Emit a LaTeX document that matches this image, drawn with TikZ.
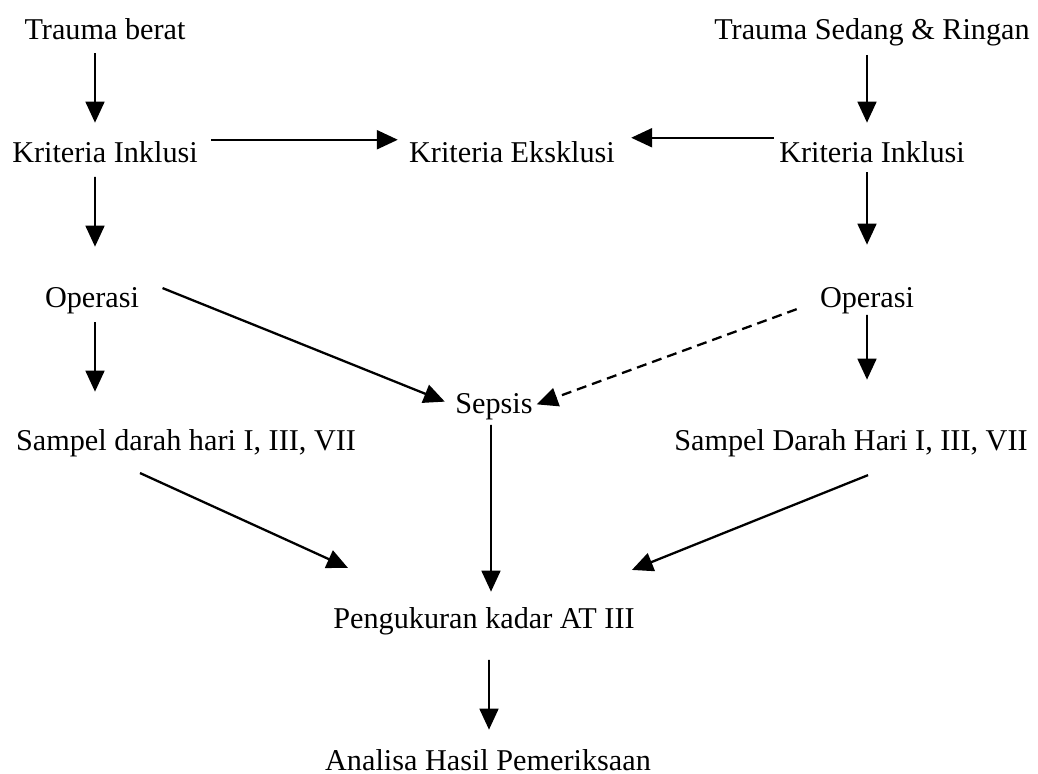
\documentclass[tikz,border=0pt]{standalone}
\usepackage{fontspec}
\setmainfont{Liberation Serif}
\usepackage{tikz}
\usetikzlibrary{arrows.meta}

\begin{document}
\begin{tikzpicture}[
txt/.style={anchor=base, inner sep=0pt, text height=0.42cm, text depth=0.13cm, font=\fontsize{17.2}{20}\selectfont},
arrow/.style={-{Triangle[length=0.42cm, width=0.38cm]}, line width=1pt},
slant/.style={arrow, line width=1.3pt},
dasharrow/.style={slant, dash pattern=on 0.2cm off 0.12cm}
]
\useasboundingbox (0,0) rectangle (20.76,-15.48);

% Top row
\node[txt] (tb) at (2.10,-0.80) {Trauma berat};
\node[txt] (ts) at (17.44,-0.80) {Trauma Sedang \& Ringan};

% Criteria
\node[txt] (kiL) at (2.10,-3.26) {Kriteria Inklusi};
\node[txt] (ke) at (10.24,-3.26) {Kriteria Eksklusi};
\node[txt] (kiR) at (17.44,-3.26) {Kriteria Inklusi};

% Operation and samples
\node[txt] (opL) at (1.84,-6.16) {Operasi};
\node[txt] (opR) at (17.34,-6.16) {Operasi};
\node[txt] (sep) at (9.88,-8.26) {Sepsis};
\node[txt] (saL) at (3.72,-9.00) {Sampel darah hari I, III, VII};
\node[txt] (saR) at (17.02,-9.00) {Sampel Darah Hari I, III, VII};

% Bottom
\node[txt] (pk) at (9.68,-12.56) {Pengukuran kadar AT III};
\node[txt] (an) at (9.76,-15.40) {Analisa Hasil Pemeriksaan};

\draw[arrow, shorten <=0.13cm, shorten >=0.38cm] ([xshift=-0.2cm]tb.south) -- ([xshift=-0.2cm]kiL.north);
\draw[arrow, shorten <=0.16cm, shorten >=0.38cm] ([xshift=-0.1cm]ts.south) -- ([xshift=-0.1cm]kiR.north);
\draw[slant, shorten <=0.26cm, shorten >=0.22cm] ([yshift=0.32cm]kiL.east) -- ([yshift=0.32cm]ke.west);
\draw[slant, shorten <=0.1cm, shorten >=0.32cm] ([yshift=0.36cm]kiR.west) -- ([yshift=0.36cm]ke.east);
\draw[arrow, shorten <=0.14cm, shorten >=0.8cm] ([xshift=-0.2cm]kiL.south) -- ([xshift=0.06cm]opL.north);
\draw[arrow, shorten <=0.05cm, shorten >=0.84cm] ([xshift=-0.1cm]kiR.south) -- (opR.north);
\draw[arrow, shorten <=0.15cm, shorten >=0.74cm] ([xshift=0.06cm]opL.south) -- ([xshift=-1.82cm]saL.north);
\draw[arrow, shorten >=0.98cm] (opR.south) -- ([xshift=0.32cm]saR.north);
\draw[slant, shorten <=0.5cm, shorten >=0.22cm] ([yshift=0.44cm]opL.east) -- (sep.west);
\draw[dasharrow, shorten <=0.49cm, shorten >=0.08cm] (opR.west) -- (sep.east);
\draw[arrow, shorten <=0.1cm, shorten >=0.3cm] ([xshift=-0.06cm]sep.south) -- ([xshift=0.14cm]pk.north);
\draw[slant, shorten <=0.78cm, shorten >=1.87cm] ([xshift=-1.63cm]saL.south) -- ([xshift=-1.02cm]pk.north);
\draw[slant, shorten <=0.98cm, shorten >=1.97cm] ([xshift=1.25cm]saR.south) -- ([xshift=1.13cm]pk.north);
\draw[arrow, shorten <=0.5cm, shorten >=0.38cm] ([xshift=0.1cm]pk.south) -- ([xshift=0.02cm]an.north);

\end{tikzpicture}
\end{document}
